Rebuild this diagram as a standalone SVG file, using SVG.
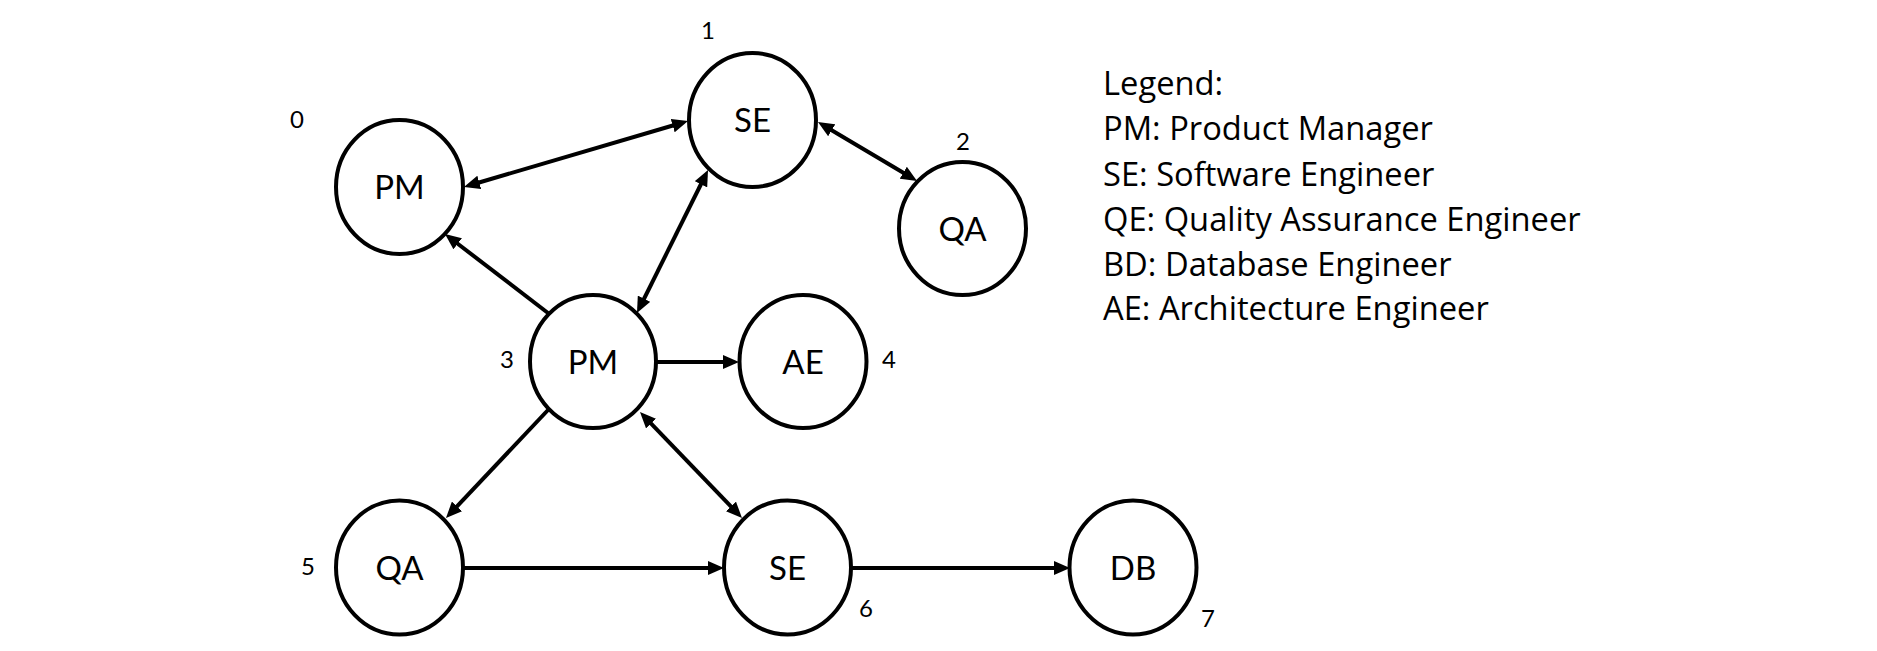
<svg xmlns="http://www.w3.org/2000/svg" width="1877" height="651" viewBox="0 0 1877 651">
<style>
.node ellipse{fill:#fff;stroke:#000;stroke-width:4}
.node text.n{font-family:Lato,"Open Sans",sans-serif;font-size:33px;text-anchor:middle;fill:#000}
.node text.i{font-family:Lato,"Open Sans",sans-serif;font-size:24px;text-anchor:middle;fill:#000}
#edges line{stroke:#000;stroke-width:4;fill:none}
.one{marker-end:url(#ah)}
.two{marker-start:url(#ah);marker-end:url(#ah)}
#legend text{font-family:"Open Sans",Lato,sans-serif;font-size:32.7px;fill:#000}
</style>
<defs>
<marker id="ah" viewBox="0 0 16 14" markerWidth="16" markerHeight="14" refX="2" refY="7" markerUnits="userSpaceOnUse" orient="auto-start-reverse">
<path d="M0,0 L16,7 L0,14 z" fill="#000"/>
</marker>
</defs>
<rect width="1877" height="651" fill="#fff"/>
<g id="edges">
<line class="two" x1="477.4" y1="183" x2="674.6" y2="125"/>
<line class="one" x1="548" y1="313" x2="456.1" y2="242.5"/>
<line class="two" x1="643.2" y1="300.5" x2="701.8" y2="182.5"/>
<line class="two" x1="830" y1="129.2" x2="905" y2="173.8"/>
<line class="one" x1="656" y1="362" x2="725" y2="362"/>
<line class="one" x1="548" y1="410" x2="455.6" y2="507.8"/>
<line class="two" x1="649.7" y1="422.1" x2="732.3" y2="507.9"/>
<line class="one" x1="463" y1="568" x2="710" y2="568"/>
<line class="one" x1="851" y1="568" x2="1056" y2="568"/>
</g>
<g id="node0" class="node"><ellipse cx="399.5" cy="187" rx="63.5" ry="67"/><text class="n" x="399.5" y="199">PM</text><text class="i" x="297" y="128">0</text></g>
<g id="node1" class="node"><ellipse cx="752.5" cy="120" rx="63.5" ry="67"/><text class="n" x="752.5" y="132">SE</text><text class="i" x="708" y="39">1</text></g>
<g id="node2" class="node"><ellipse cx="962.5" cy="228.5" rx="63.5" ry="66.5"/><text class="n" x="962.5" y="240.5">QA</text><text class="i" x="963" y="150">2</text></g>
<g id="node3" class="node"><ellipse cx="593" cy="361.5" rx="63" ry="66.5"/><text class="n" x="593" y="373.5">PM</text><text class="i" x="507" y="368">3</text></g>
<g id="node4" class="node"><ellipse cx="803" cy="361.5" rx="63.5" ry="66.5"/><text class="n" x="803" y="373.5">AE</text><text class="i" x="889" y="368">4</text></g>
<g id="node5" class="node"><ellipse cx="399.5" cy="567.5" rx="63.5" ry="67"/><text class="n" x="399.5" y="579.5">QA</text><text class="i" x="308" y="575">5</text></g>
<g id="node6" class="node"><ellipse cx="787.5" cy="567.5" rx="63.5" ry="67"/><text class="n" x="787.5" y="579.5">SE</text><text class="i" x="866" y="617">6</text></g>
<g id="node7" class="node"><ellipse cx="1133" cy="567.5" rx="63.5" ry="67"/><text class="n" x="1133" y="579.5">DB</text><text class="i" x="1208" y="627">7</text></g>
<g id="legend">
<text x="1103" y="95">Legend:</text>
<text x="1103" y="140">PM: Product Manager</text>
<text x="1103" y="185.7">SE: Software Engineer</text>
<text x="1103" y="230.7">QE: Quality Assurance Engineer</text>
<text x="1103" y="275.7">BD: Database Engineer</text>
<text x="1103" y="320">AE: Architecture Engineer</text>
</g>
</svg>
